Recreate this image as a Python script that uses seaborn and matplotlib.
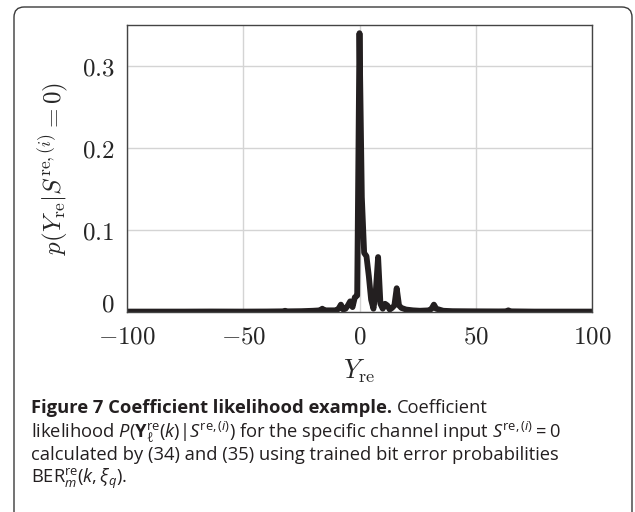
import matplotlib
matplotlib.use("Agg")
import matplotlib.pyplot as plt
import seaborn as sns
from matplotlib.patches import FancyBboxPatch

# likelihood values (integer Y_re positions)
y_re = [-100, -90, -75, -64, -50, -40, -33, -32, -31, -25, -20, -17, -16, -15,
        -12, -10, -9, -8, -7, -6, -5, -4, -3, -2, -1, 0, 1, 2, 3, 4, 5, 6, 7,
        8, 9, 10, 11, 12, 13, 14, 15, 16, 17, 18, 20, 23, 26, 30, 31, 32, 33,
        36, 40, 50, 60, 63, 64, 65, 75, 90, 100]
p_val = [0.0005, 0.0005, 0.0005, 0.0006, 0.0005, 0.0006, 0.0008, 0.0015, 0.0008,
         0.001, 0.0015, 0.002, 0.004, 0.002, 0.002, 0.002, 0.004, 0.009, 0.003,
         0.004, 0.008, 0.013, 0.006, 0.018, 0.02, 0.34, 0.14, 0.072, 0.068,
         0.044, 0.015, 0.004, 0.025, 0.067, 0.01, 0.004, 0.01, 0.008, 0.003,
         0.005, 0.008, 0.029, 0.008, 0.005, 0.003, 0.002, 0.0015, 0.002, 0.004,
         0.009, 0.004, 0.0015, 0.001, 0.0008, 0.0007, 0.0008, 0.002, 0.0008,
         0.0005, 0.0005, 0.0005]

x_ticks = [-100, -50, 0, 50, 100]
y_ticks = [0, 0.1, 0.2, 0.3]
x_labels = ["$-100$", "$-50$", "$0$", "$50$", "$100$"]
y_labels = ["$0$", "$0.1$", "$0.2$", "$0.3$"]

sns.set_style("white")
cap_font = "Open Sans"
plt.rcParams["mathtext.fontset"] = "custom"
plt.rcParams["mathtext.rm"] = cap_font
plt.rcParams["mathtext.it"] = cap_font + ":italic"
plt.rcParams["mathtext.bf"] = cap_font + ":bold"
plt.rcParams["font.family"] = [cap_font, "DejaVu Sans"]

W, H = 635, 512
fig = plt.figure(figsize=(W / 100, H / 100), dpi=100)

# rounded frame round the figure and caption
box = FancyBboxPatch((14 / W, -0.05), 618 / W, 0.05 + (H - 7) / H,
                     boxstyle="round,pad=0,rounding_size=0.016",
                     mutation_aspect=W / H,
                     transform=fig.transFigure, fill=False,
                     edgecolor="#3a3a3a", linewidth=1.0)
fig.patches.append(box)

ax = fig.add_axes([127 / W, 200 / H, 465 / W, 287 / H])
sns.lineplot(x=y_re, y=p_val, ax=ax, color="#231f20", linewidth=4.2)

ax.set_xlim(-100, 100)
ax.set_ylim(0, 0.35)
ax.set_xticks(x_ticks, labels=x_labels)
ax.set_yticks(y_ticks, labels=y_labels)
ax.grid(True, color="#d4d4d4", linewidth=1.0)
ax.set_axisbelow(True)
ax.tick_params(length=0, labelsize=18, pad=9)
for lbl in ax.get_xticklabels() + ax.get_yticklabels():
    lbl.set_math_fontfamily("cm")
ax.get_yticklabels()[0].set_verticalalignment("baseline")
for sp in ax.spines.values():
    sp.set_color("#444444")
    sp.set_linewidth(1.0)

ax.set_xlabel(r"$Y_{\mathrm{re}}$", fontsize=19, math_fontfamily="cm", labelpad=6)
ax.set_ylabel(r"$p(Y_{\mathrm{re}}|S^{\mathrm{re},(i)}=0)$", fontsize=18,
              math_fontfamily="cm", labelpad=8)

# caption, built run by run so the bold head sits next to the plain text
renderer = fig.canvas.get_renderer()
cap_size = 13.2


def put_line(y_top, parts, x=31):
    for s, weight in parts:
        t = fig.text(x, H - y_top, s, transform=None, fontsize=cap_size,
                     fontweight=weight, va="baseline", ha="left",
                     math_fontfamily="custom", color="#231f20")
        x = t.get_window_extent(renderer).x1 + 5


put_line(413, [("Figure 7 Coefficient likelihood example.", "bold"),
               ("Coefficient", "normal")])
put_line(437, [(r"likelihood $P(\mathbf{Y}_{\ell}^{\mathrm{re}}(k)|S^{\mathrm{re},(i)})$"
                r" for the specific channel input $S^{\mathrm{re},(i)}=0$", "normal")])
put_line(460, [("calculated by (34) and (35) using trained bit error probabilities",
                "normal")])
put_line(483, [(r"$\mathrm{BER}_{m}^{\mathrm{re}}(k,\xi_{q})$.", "normal")])

fig.savefig("out.png", dpi=100)
